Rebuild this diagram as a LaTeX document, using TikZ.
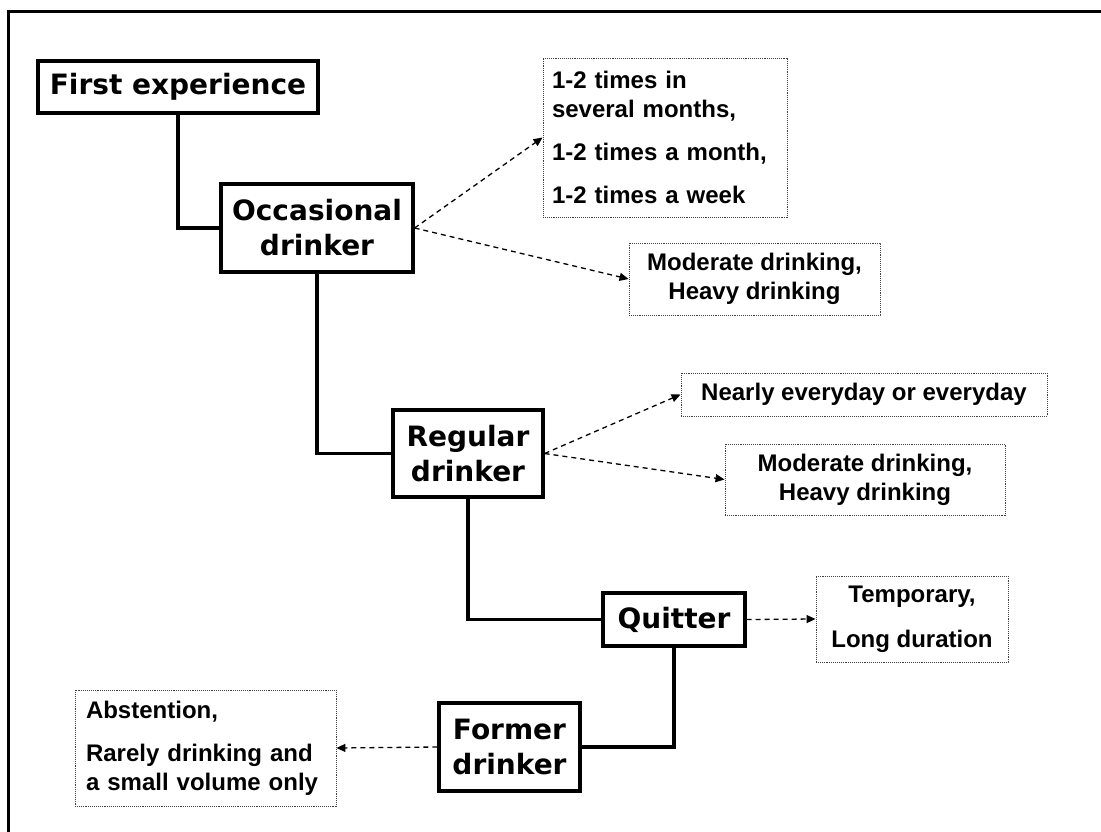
\documentclass[tikz,border=0pt]{standalone}
\usepackage{fontspec}
\setmainfont{Liberation Sans}
\newfontfamily\stagefont{DejaVu Sans}
\usetikzlibrary{arrows.meta}

\tikzset{
  stagebox/.style={draw, line width=3.2pt, align=center, inner sep=0pt,
    font=\stagefont\bfseries\fontsize{28}{35}\selectfont},
  infobox/.style={draw=black!75, densely dotted, line width=0.9pt, inner ysep=0pt,
    font=\bfseries\fontsize{24}{29}\selectfont},
  link/.style={line width=3.2pt},
  branch/.style={line width=1.3pt, dash pattern=on 5pt off 4pt,
    -{Triangle[length=9pt,width=8pt]}},
}

\begin{document}
\begin{tikzpicture}[x=1pt,y=-1pt]
  \useasboundingbox (0,0) rectangle (1101,832);
  \fill[white] (0,0) rectangle (1101,832);

  % frame (only its top and left edges fall inside the page)
  \draw[line width=3pt] (8,832) -- (8,12) -- (1101,12);

  % stages of drinking
  \node[stagebox, minimum width=280, minimum height=52] (first) at (178,87) {First experience};
  \node[stagebox, minimum width=192, minimum height=88] (occ) at (317,228) {Occasional\\drinker};
  \node[stagebox, minimum width=150, minimum height=87] (reg) at (468,453.5) {Regular\\drinker};
  \node[stagebox, minimum width=142, minimum height=53] (quit) at (674,619.5) {Quitter};
  \node[stagebox, minimum width=141, minimum height=88] (former) at (509.5,747) {Former\\drinker};

  % descriptions
  \node[infobox, inner xsep=9, minimum height=159, text width=226, align=left] (freq1) at (665,137.5)
    {1-2 times in\\several months,\\[14pt]1-2 times a month,\\[14pt]1-2 times a week};
  \node[infobox, inner xsep=0, minimum width=251, minimum height=72, align=center] (amount1) at (754.5,279)
    {Moderate drinking,\\Heavy drinking};
  \node[infobox, inner xsep=0, minimum width=366, minimum height=43, align=center] (freq2) at (864,394.5)
    {Nearly everyday or everyday};
  \node[infobox, inner xsep=0, minimum width=280, minimum height=71, align=center] (amount2) at (865,479.5)
    {Moderate drinking,\\Heavy drinking};
  \node[infobox, inner xsep=0, minimum width=192, minimum height=86, align=center] (span) at (912,619)
    {Temporary,\\[16pt]Long duration};
  \node[infobox, inner xsep=11, minimum height=116, text width=239, align=left] (after) at (205.5,748)
    {Abstention,\\[14pt]Rarely drinking and\\a small volume only};

  % progression between stages
  \draw[link] (first.south) |- (occ.west);
  \draw[link] (occ.south) |- (reg.west);
  \draw[link] (reg.south) |- (quit.west);
  \draw[link] (quit.south) |- (former.east);

  % branches to descriptions
  \draw[branch] (occ.east) -- (freq1.west);
  \draw[branch] (occ.east) -- (amount1.west);
  \draw[branch] (reg.east) -- (freq2.west);
  \draw[branch] (reg.east) -- (amount2.west);
  \draw[branch] (quit.east) -- (span.west);
  \draw[branch] (former.west) -- (after.east);
\end{tikzpicture}
\end{document}
